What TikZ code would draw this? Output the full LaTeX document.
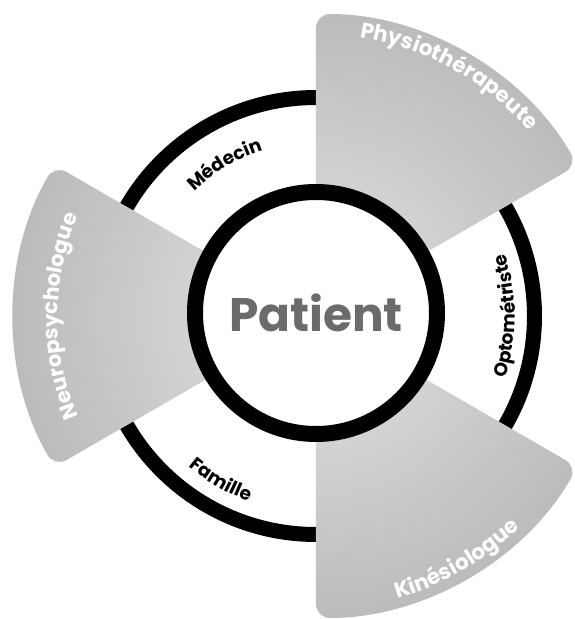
\documentclass[tikz,border=0pt]{standalone}
\usepackage{fontspec}
\setmainfont{Poppins}
\usetikzlibrary{decorations.text}

\definecolor{patientgray}{HTML}{6B6B6B}

\newcommand{\wedgeshade}[2]{%
    \begin{scope}
        \clip[rounded corners=14pt] (0,0) -- (#1:302pt)
            arc[start angle=#1, end angle=#2, radius=302pt] -- cycle;
        \shade[inner color=gray!22, outer color=gray!84] (0,0) circle (604pt);
    \end{scope}}

\begin{document}
\begin{tikzpicture}[
                    x=1pt, y=1pt,
                    ring/.style={draw=black, line width=15pt},
                    hub/.style={
                        circle,
                        draw=black,
                        line width=16pt,
                        fill=white,
                        minimum size=242pt,
                        inner sep=0pt,
                        text=patientgray,
                        font=\fontsize{47}{47}\selectfont\bfseries
                    },
                    curvelabel/.style={
                        decorate,
                        decoration={text along path, text align=center,
                            text color=#1}
                    }
                ]
                    \useasboundingbox (-316,-303) rectangle (258,316);

                    % outer ring
                    \draw[ring] (0,0) circle (218.5);

                    % wedges
                    \wedgeshade{90}{30}
                    \wedgeshade{-90}{-30}
                    \wedgeshade{150}{210}

                    \node[hub] (patient) at (0,3) {Patient};

                    % wedge labels
                    \path[curvelabel=white, decoration={text={|\fontsize{21.5}{21.5}\selectfont\bfseries|Physiothérapeute}}]
                        (88:282) arc[start angle=88, end angle=34, radius=282];
                    \path[curvelabel=white, decoration={text={|\fontsize{21.5}{21.5}\selectfont\bfseries|Kinésiologue}}]
                        (-85:294) arc[start angle=-85, end angle=-35, radius=294];
                    \path[curvelabel=white, decoration={text={|\fontsize{21}{21}\selectfont\bfseries|Neuropsychologue}}]
                        (212:258) arc[start angle=212, end angle=148, radius=258];

                    % ring labels
                    \path[curvelabel=black, decoration={text={|\fontsize{18.5}{18.5}\selectfont\bfseries|Médecin}}]
                        (150:174) arc[start angle=150, end angle=92, radius=174];
                    \path[curvelabel=black, decoration={text={|\fontsize{18.5}{18.5}\selectfont\bfseries|Optométriste}}]
                        (-30:199) arc[start angle=-30, end angle=30, radius=199];
                    \path[curvelabel=black, decoration={text={|\fontsize{18.5}{18.5}\selectfont\bfseries|Famille}}]
                        (215:197) arc[start angle=215, end angle=265, radius=197];
                \end{tikzpicture}
\end{document}
